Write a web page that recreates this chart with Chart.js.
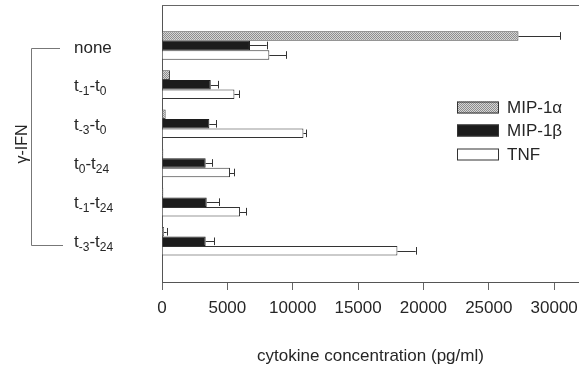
<!DOCTYPE html>
<html><head><meta charset="utf-8">
<script src="https://cdn.jsdelivr.net/npm/chart.js@4.4.1/dist/chart.umd.min.js"></script>
<style>html,body{margin:0;padding:0;background:#fff}#wrap{width:579px;height:370px;position:relative}</style>
</head><body><div id="wrap"><canvas id="c" width="579" height="370"></canvas></div>
<script>
// ---- data ----
const categories = ['none', 't_{-1}-t_{0}', 't_{-3}-t_{0}', 't_{0}-t_{24}', 't_{-1}-t_{24}', 't_{-3}-t_{24}'];
const seriesNames = ['MIP-1α', 'MIP-1β', 'TNF'];
const mip1a   = [27270, 610, 280, 100, 100, 150];
const mip1aSD = [3190, 0, 0, 0, 0, 200];
const mip1b   = [6730, 3730, 3620, 3340, 3420, 3340];
const mip1bSD = [1280, 580, 510, 510, 970, 640];
const tnf     = [8210, 5540, 10820, 5200, 5970, 18010];
const tnfSD   = [1280, 350, 200, 310, 460, 1400];
const xTicks  = [0, 5000, 10000, 15000, 20000, 25000, 30000];
const groupTitle = 'γ-IFN';
const xTitle = 'cytokine concentration (pg/ml)';

const FONT = "'Liberation Sans', Arial, Helvetica, sans-serif";
const TXT = '#262626';

function makePattern() {
  const p = document.createElement('canvas'); p.width = 2; p.height = 2;
  const g = p.getContext('2d');
  g.fillStyle = '#d6d6d6'; g.fillRect(0, 0, 2, 2);
  g.fillStyle = '#8c8c8c'; g.fillRect(0, 0, 1, 1); g.fillRect(1, 1, 1, 1);
  return g.createPattern(p, 'repeat');
}
const pattern = makePattern();

const toPts = arr => arr.map((v, i) => ({x: v, y: i}));

const errorBars = {
  id: 'errorBars',
  afterDatasetsDraw(chart) {
    const ctx = chart.ctx, xs = chart.scales.x;
    ctx.save();
    ctx.strokeStyle = '#333'; ctx.lineWidth = 1;
    chart.data.datasets.forEach((ds, di) => {
      const meta = chart.getDatasetMeta(di);
      meta.data.forEach((bar, i) => {
        const sd = ds.errors[i];
        if (!sd) return;
        const {x, y, height} = bar.getProps(['x', 'y', 'height'], true);
        const xe = xs.getPixelForValue(ds.data[i].x + sd);
        const h = height * 0.4;
        ctx.beginPath();
        ctx.moveTo(x, Math.round(y) + 0.5); ctx.lineTo(xe, Math.round(y) + 0.5);
        ctx.moveTo(Math.round(xe) + 0.5, y - h); ctx.lineTo(Math.round(xe) + 0.5, y + h);
        ctx.stroke();
      });
    });
    ctx.restore();
  }
};

function drawRich(ctx, str, x, yc) {
  const parts = [];
  const re = /_\{([^}]*)\}/g;
  let last = 0, m;
  while ((m = re.exec(str))) {
    if (m.index > last) parts.push({t: str.slice(last, m.index), sub: false});
    parts.push({t: m[1], sub: true});
    last = re.lastIndex;
  }
  if (last < str.length) parts.push({t: str.slice(last), sub: false});
  const hasSub = parts.some(p => p.sub);
  const base = yc + (hasSub ? 6 : 8);
  ctx.textBaseline = 'alphabetic'; ctx.textAlign = 'left';
  let cx = x;
  parts.forEach(p => {
    ctx.font = (p.sub ? '12px ' : '17px ') + FONT;
    ctx.fillText(p.t, cx, p.sub ? base + 4 : base);
    cx += ctx.measureText(p.t).width;
  });
}

const decor = {
  id: 'decor',
  afterDraw(chart) {
    const ctx = chart.ctx, ca = chart.chartArea, ys = chart.scales.y;
    ctx.save();
    // top frame line
    ctx.strokeStyle = '#666'; ctx.lineWidth = 1;
    ctx.beginPath(); ctx.moveTo(ca.left, ca.top + 0.5); ctx.lineTo(ca.right, ca.top + 0.5); ctx.stroke();
    // category labels
    ctx.fillStyle = TXT;
    categories.forEach((c, i) => drawRich(ctx, c, 74, ys.getPixelForValue(i)));
    // bracket
    ctx.strokeStyle = '#777';
    ctx.beginPath();
    ctx.moveTo(60, 48.5); ctx.lineTo(31.5, 48.5); ctx.lineTo(31.5, 245.5); ctx.lineTo(63, 245.5);
    ctx.stroke();
    ctx.save();
    ctx.translate(23, 144); ctx.rotate(-Math.PI / 2);
    ctx.font = '16px ' + FONT; ctx.textAlign = 'center'; ctx.textBaseline = 'middle';
    ctx.fillText(groupTitle, 0, 0);
    ctx.restore();
    // legend
    const rows = [107.5, 130.5, 154.5];
    chart.data.datasets.forEach((ds, i) => {
      const yc = rows[i];
      ctx.fillStyle = ds.backgroundColor;
      ctx.fillRect(457, yc - 6, 42, 12);
      ctx.strokeStyle = '#333';
      ctx.strokeRect(457.5, yc - 5.5, 41, 11);
      ctx.fillStyle = TXT;
      ctx.font = '17px ' + FONT; ctx.textAlign = 'left'; ctx.textBaseline = 'middle';
      ctx.fillText(ds.label, 507, yc + 1);
    });
    ctx.restore();
  }
};

new Chart(document.getElementById('c'), {
  type: 'bar',
  data: {
    datasets: [
      {label: seriesNames[0], data: toPts(mip1a), errors: mip1aSD, backgroundColor: pattern, borderColor: '#444', borderWidth: 1},
      {label: seriesNames[1], data: toPts(mip1b), errors: mip1bSD, backgroundColor: '#1c1c1c', borderColor: '#1c1c1c', borderWidth: 1},
      {label: seriesNames[2], data: toPts(tnf), errors: tnfSD, backgroundColor: '#ffffff', borderColor: '#333', borderWidth: 1}
    ]
  },
  options: {
    indexAxis: 'y',
    responsive: false,
    animation: false,
    devicePixelRatio: 1,
    barPercentage: 1.0,
    categoryPercentage: 0.73,
    layout: {padding: {top: 5, left: 0, right: 0, bottom: 0}},
    plugins: {legend: {display: false}, tooltip: {enabled: false}},
    scales: {
      x: {
        type: 'linear', min: 0, max: 31900,
        afterBuildTicks: s => { s.ticks = xTicks.map(v => ({value: v})); },
        afterFit: s => { s.height = 88; s.paddingLeft = 0; s.paddingRight = 0; },
        ticks: {font: {family: FONT, size: 17}, color: TXT, padding: 8, maxRotation: 0, autoSkip: false,
                callback: v => String(v)},
        grid: {drawOnChartArea: false, drawTicks: true, tickLength: 8, color: '#666'},
        border: {display: true, color: '#555', width: 1},
        title: {display: true, text: xTitle, font: {family: FONT, size: 17}, color: TXT, padding: {top: 0, bottom: 3}}
      },
      y: {
        type: 'linear', reverse: true, min: -1.034, max: 6.039, offset: false,
        afterFit: s => { s.width = 162; },
        ticks: {display: false},
        grid: {display: false},
        border: {display: true, color: '#555', width: 1}
      }
    }
  },
  plugins: [errorBars, decor]
});
</script></body></html>
